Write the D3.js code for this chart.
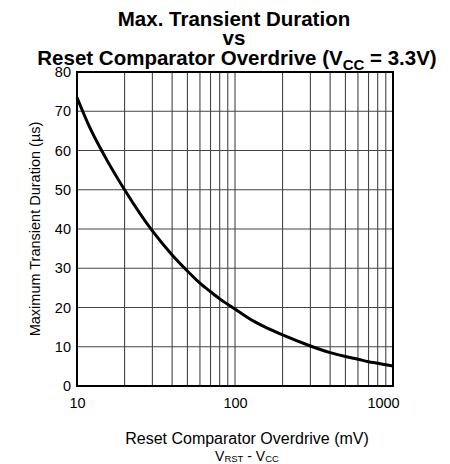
<!DOCTYPE html>
<html>
<head>
<meta charset="utf-8">
<script src="https://cdn.jsdelivr.net/npm/d3@7"></script>
<style>
  body { margin: 0; background: #fff; }
  text { font-family: Arial, "Liberation Sans", sans-serif; }
</style>
</head>
<body>
<script>
// overdrive in mV and max transient duration in us
var overdrive = [10, 12, 15, 20, 30, 40, 50, 60, 70, 80, 100, 125, 150, 200, 300, 400, 500, 600, 700, 800, 900, 1000];
var duration  = [73.5, 66, 58.5, 50, 39.5, 33.4, 29.3, 26.2, 24.0, 22.2, 19.6, 17.0, 15.3, 13.0, 10.2, 8.5, 7.5, 6.8, 6.2, 5.8, 5.4, 5.1];
var xTickLabels = [10, 100, 1000];
var yTicks = [0, 10, 20, 30, 40, 50, 60, 70, 80];

var width = 450, height = 464;
var margin = {top: 72, right: 57, bottom: 78, left: 77};

var svg = d3.select("body").append("svg")
    .attr("width", width)
    .attr("height", height);

var xScale = d3.scaleLog().domain([10, 1000]).range([margin.left, width - margin.right]);
var yScale = d3.scaleLinear().domain([0, 80]).range([height - margin.bottom, margin.top]);

// title
var title = svg.append("text")
    .attr("text-anchor", "middle")
    .style("font-size", "20.5px")
    .style("font-weight", "bold");
title.append("tspan").attr("x", 234).attr("y", 26).text("Max. Transient Duration");
title.append("tspan").attr("x", 234).attr("y", 45).text("vs");
var t3 = title.append("tspan").attr("x", 237).attr("y", 65);
t3.append("tspan").text("Reset Comparator Overdrive (V");
t3.append("tspan").attr("dy", 5).style("font-size", "15px").text("CC");
t3.append("tspan").attr("dy", -5).text(" = 3.3V)");

// grid lines
var grid = svg.append("g");
grid.selectAll(".vgrid")
    .data(xScale.ticks().filter(function(d) { return d > 10 && d < 1000; }))
    .enter().append("line")
    .attr("x1", function(d) { return xScale(d); })
    .attr("x2", function(d) { return xScale(d); })
    .attr("y1", yScale(0))
    .attr("y2", yScale(80))
    .attr("stroke", "#444")
    .attr("stroke-width", 1.1);

grid.selectAll(".hgrid")
    .data(yTicks.filter(function(d) { return d > 0 && d < 80; }))
    .enter().append("line")
    .attr("x1", xScale(10))
    .attr("x2", xScale(1000))
    .attr("y1", function(d) { return yScale(d); })
    .attr("y2", function(d) { return yScale(d); })
    .attr("stroke", "#444")
    .attr("stroke-width", 1.1);

// curve
var line = d3.line()
    .x(function(d, i) { return xScale(overdrive[i]); })
    .y(function(d) { return yScale(d); })
    .curve(d3.curveMonotoneX);

svg.append("path")
    .datum(duration)
    .attr("d", line)
    .attr("fill", "none")
    .attr("stroke", "#000")
    .attr("stroke-width", 3);

// frame
svg.append("rect")
    .attr("x", xScale(10))
    .attr("y", yScale(80))
    .attr("width", xScale(1000) - xScale(10))
    .attr("height", yScale(0) - yScale(80))
    .attr("fill", "none")
    .attr("stroke", "#000")
    .attr("stroke-width", 2);

// y axis labels
var yAxis = d3.axisLeft(yScale).tickValues(yTicks).tickSize(0).tickPadding(6);
var yg = svg.append("g")
    .attr("transform", "translate(" + xScale(10) + ",0)")
    .call(yAxis);
yg.select(".domain").remove();
yg.selectAll("text").style("font-size", "14.5px").style("font-family", "Arial, 'Liberation Sans', sans-serif").attr("fill", "#000");

// x axis labels
var xAxis = d3.axisBottom(xScale).tickValues(xTickLabels).tickSize(0).tickPadding(12)
    .tickFormat(d3.format("d"));
var xg = svg.append("g")
    .attr("transform", "translate(0," + yScale(0) + ")")
    .call(xAxis);
xg.select(".domain").remove();
xg.selectAll("text").style("font-size", "14.5px").style("font-family", "Arial, 'Liberation Sans', sans-serif").attr("fill", "#000")
    .attr("dx", function(d) { return d === 1000 ? -10 : 0; });

// axis titles
svg.append("text")
    .attr("transform", "translate(40," + ((yScale(0) + yScale(80)) / 2) + ") rotate(-90)")
    .attr("text-anchor", "middle")
    .style("font-size", "14.5px")
    .text("Maximum Transient Duration (\u00b5s)");

svg.append("text")
    .attr("x", 247)
    .attr("y", 444)
    .attr("text-anchor", "middle")
    .style("font-size", "16px")
    .text("Reset Comparator Overdrive (mV)");

var sub = svg.append("text")
    .attr("x", 247)
    .attr("y", 460.5)
    .attr("text-anchor", "middle")
    .style("font-size", "14px");
sub.append("tspan").text("V");
sub.append("tspan").attr("dy", 1).style("font-size", "9.5px").text("RST");
sub.append("tspan").attr("dy", -1).text(" - V");
sub.append("tspan").attr("dy", 1).style("font-size", "9.5px").text("CC");
</script>
</body>
</html>
